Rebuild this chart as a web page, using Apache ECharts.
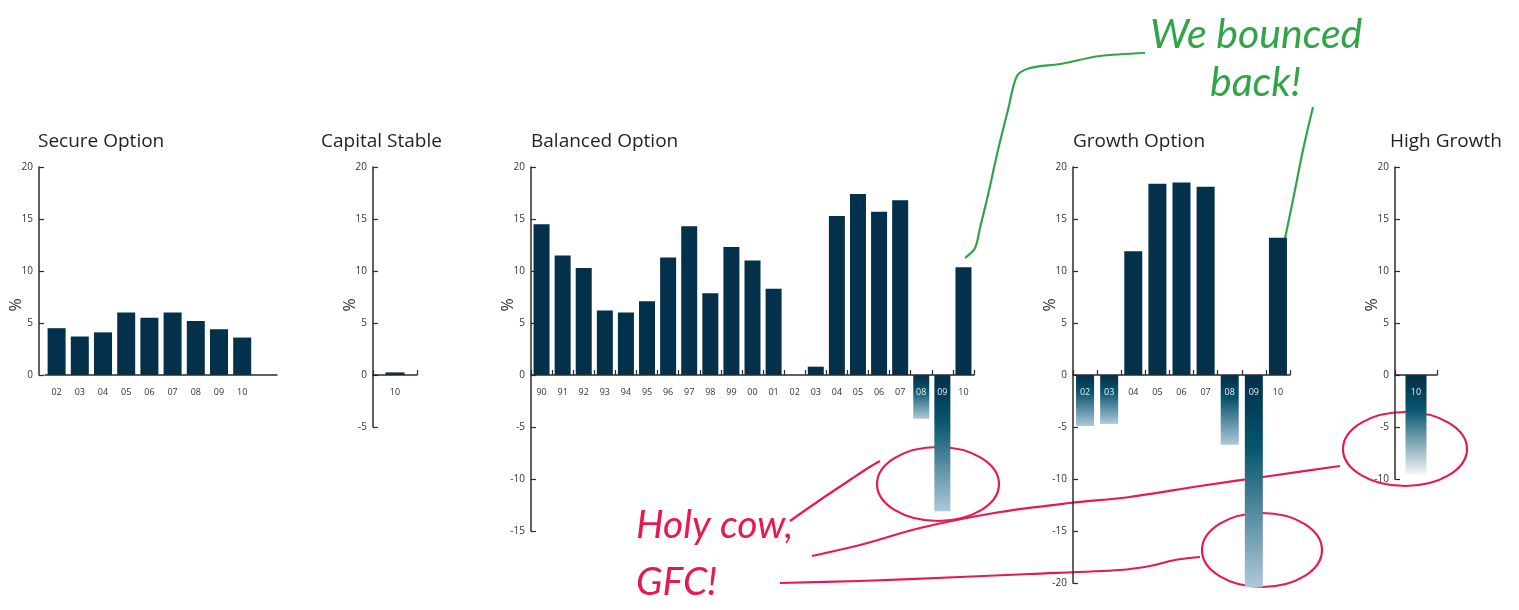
<!DOCTYPE html>
<html>
<head>
<meta charset="utf-8">
<title>Option returns</title>
<script src="https://cdn.jsdelivr.net/npm/echarts@6/dist/echarts.min.js"></script>
<style>html,body{margin:0;padding:0;background:#fff;}</style>
</head>
<body>
<div id="main" style="width:1519px;height:610px;"></div>
<script type="text/javascript">
// annual returns, %
var secureYears = ['02', '03', '04', '05', '06', '07', '08', '09', '10'];
var secureValues = [4.5, 3.7, 4.1, 6.0, 5.5, 6.0, 5.2, 4.4, 3.6];

var capitalYears = ['10'];
var capitalValues = [0.25];

var balancedYears = ['90', '91', '92', '93', '94', '95', '96', '97', '98', '99', '00',
  '01', '02', '03', '04', '05', '06', '07', '08', '09', '10'];
var balancedValues = [14.5, 11.5, 10.3, 6.2, 6.0, 7.1, 11.3, 14.3, 7.85, 12.3, 11.0,
  8.3, 0, 0.8, 15.3, 17.4, 15.7, 16.8, -4.2, -13.1, 10.35];

var growthYears = ['02', '03', '04', '05', '06', '07', '08', '09', '10'];
var growthValues = [-4.9, -4.7, 11.9, 18.4, 18.5, 18.1, -6.7, -20.4, 13.2];

var highYears = ['10'];
var highValues = [-9.6];

// y axis ranges
var yMins = [0, -5, -15, -20, -10];
var yMax = 20;

var dark = '#03304a';
var ink = '#2b2b2b';
var pxPerUnit = 10.4;
var gridTop = 167;

var panels = [
  {title: 'Secure Option', titleLeft: 38, years: secureYears.concat(['']), values: secureValues,
    left: 45, width: 232, yOffset: 6, barWidth: 18, ticks: false, fade: '#aec8d9'},
  {title: 'Capital Stable', titleLeft: 321, years: capitalYears, values: capitalValues,
    left: 373, width: 44, yOffset: 0, barWidth: 19, ticks: true, fade: '#aec8d9'},
  {title: 'Balanced Option', titleLeft: 531, years: balancedYears, values: balancedValues,
    left: 531, width: 443, yOffset: 0, barWidth: 16, ticks: true, fade: '#aec8d9'},
  {title: 'Growth Option', titleLeft: 1073, years: growthYears, values: growthValues,
    left: 1073, width: 217, yOffset: 0, barWidth: 18, ticks: true, fade: '#aec8d9'},
  {title: 'High Growth', titleLeft: 1390, years: highYears, values: highValues,
    left: 1395, width: 42, yOffset: 0, barWidth: 21, ticks: true, fade: '#f4f7fa'}
];

function negFill(end) {
  return new echarts.graphic.LinearGradient(0, 0, 0, 1, [
    {offset: 0, color: '#03304a'},
    {offset: 0.12, color: '#043a55'},
    {offset: 0.35, color: '#09566f'},
    {offset: 1, color: end}
  ]);
}

var myChart = echarts.init(document.getElementById('main'));

var grids = [], xAxes = [], yAxes = [], series = [], titles = [], graphics = [];

panels.forEach(function(p, i) {
  var min = yMins[i];
  grids.push({
    left: p.left, top: gridTop, width: p.width,
    height: (yMax - min) * pxPerUnit,
    outerBoundsMode: 'none', containLabel: false
  });
  // category axis sits on the zero line: shift the whole axis (line, ticks, labels) up
  xAxes.push({
    gridIndex: i,
    type: 'category',
    offset: min * pxPerUnit,
    data: p.years.map(function(y, k) {
      var v = p.values[k];
      return {value: y, textStyle: {color: (v !== undefined && v < 0) ? '#e6eef3' : '#333'}};
    }),
    axisLine: {onZero: false, lineStyle: {color: ink, width: 1.5}},
    axisTick: {show: p.ticks, inside: true, length: 5, interval: 0, lineStyle: {color: ink, width: 1.2}},
    axisLabel: {interval: 0, margin: 13, fontSize: 9, fontFamily: 'Open Sans'},
    splitLine: {show: false},
    z: 5
  });
  yAxes.push({
    gridIndex: i,
    type: 'value',
    min: min, max: yMax, interval: 5,
    offset: p.yOffset,
    axisLine: {show: true, onZero: false, lineStyle: {color: ink, width: 1.5}},
    axisTick: {show: true, inside: true, length: 5, lineStyle: {color: ink, width: 1.2}},
    axisLabel: {fontSize: 10, margin: 6, color: '#333', fontFamily: 'Open Sans'},
    splitLine: {show: false}
  });
  series.push({
    type: 'bar',
    xAxisIndex: i, yAxisIndex: i,
    barWidth: p.barWidth,
    clip: false,
    silent: true,
    z: 2,
    data: p.values.map(function(v) {
      return {value: v, itemStyle: {color: v < 0 ? negFill(p.fade) : dark}};
    })
  });
  titles.push({
    text: p.title, left: p.titleLeft, top: 132, padding: 0,
    textStyle: {fontFamily: 'Open Sans', fontSize: 19, fontWeight: 'normal', color: '#231f20'}
  });
  // "%" axis name, same height in every panel
  graphics.push({
    type: 'text', x: p.left - p.yOffset - 23, y: 305, rotation: Math.PI / 2,
    style: {text: '%', fontFamily: 'Open Sans', fontSize: 16, fill: '#333', align: 'center', verticalAlign: 'middle'}
  });
});

// hand-drawn notes
var green = '#2fa548';
var red = '#e8194f';
var handFont = 'italic 41px Lato';

graphics.push(
  {type: 'text', x: 1150, y: 14, style: {text: 'We bounced', font: handFont, fill: green}},
  {type: 'text', x: 1210, y: 62, style: {text: 'back!', font: handFont, fill: green}},
  {type: 'polyline', shape: {points: [[1145, 53], [1100, 56], [1060, 64], [1030, 68], [1017, 76],
      [1008, 110], [998, 150], [988, 195], [980, 228], [975, 248], [965, 258]], smooth: 0.3},
    style: {stroke: green, lineWidth: 2.2, fill: null}},
  {type: 'polyline', shape: {points: [[1313, 107], [1303, 150], [1294, 195], [1283, 248]], smooth: 0.3},
    style: {stroke: green, lineWidth: 2.2, fill: null}},

  {type: 'text', x: 636, y: 506, style: {text: 'Holy cow,', font: 'italic 39px Lato', fill: red}},
  {type: 'text', x: 636, y: 563, style: {text: 'GFC!', font: 'italic 39px Lato', fill: red}},
  {type: 'polyline', shape: {points: [[790, 521], [820, 500], [850, 480], [868, 468], [880, 461]], smooth: 0.3},
    style: {stroke: red, lineWidth: 2.2, fill: null}},
  {type: 'ellipse', shape: {cx: 938, cy: 484, rx: 61, ry: 37}, style: {stroke: red, lineWidth: 2.2, fill: null}},
  {type: 'polyline', shape: {points: [[812, 556], [860, 545], [920, 528], [1000, 512], [1070, 503],
      [1130, 497], [1200, 486], [1270, 476], [1340, 466]], smooth: 0.3},
    style: {stroke: red, lineWidth: 2.2, fill: null}},
  {type: 'polyline', shape: {points: [[780, 583], [860, 581], [960, 577], [1030, 574], [1120, 570],
      [1150, 566], [1175, 560], [1200, 557]], smooth: 0.3},
    style: {stroke: red, lineWidth: 2.2, fill: null}},
  {type: 'ellipse', shape: {cx: 1262, cy: 550, rx: 60, ry: 37}, style: {stroke: red, lineWidth: 2.2, fill: null}},
  {type: 'ellipse', shape: {cx: 1405, cy: 449, rx: 62, ry: 37}, style: {stroke: red, lineWidth: 2.2, fill: null}}
);

var option = {
  animation: false,
  backgroundColor: '#fff',
  title: titles,
  grid: grids,
  xAxis: xAxes,
  yAxis: yAxes,
  series: series,
  graphic: graphics
};
myChart.setOption(option);
</script>
</body>
</html>
